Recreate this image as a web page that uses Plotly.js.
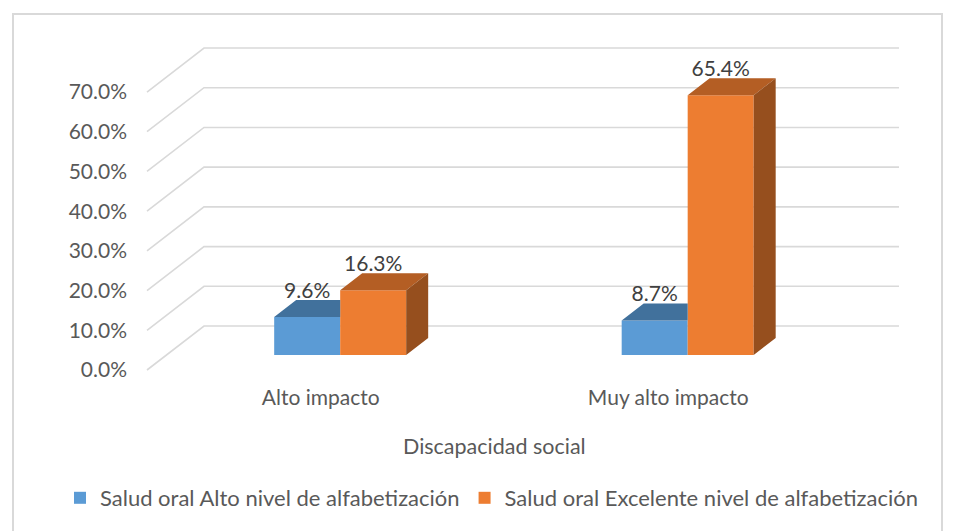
<!DOCTYPE html>
<html>
<head>
<meta charset="utf-8">
<script src="https://cdn.plot.ly/plotly-3.0.1.min.js"></script>
<style>
  html, body { margin: 0; padding: 0; background: #ffffff; }
  #wrap { position: relative; width: 959px; height: 531px; }
  #chart { width: 959px; height: 531px; }
  #frame { position: absolute; left: 12px; top: 13px; width: 931px; height: 530px;
           border: 2px solid #d9d9d9; pointer-events: none; box-sizing: border-box; }
</style>
</head>
<body>
<div id="wrap">
  <div id="chart"></div>
  <div id="frame"></div>
</div>
<script>
// ---------------- data ----------------
const categories = ['Alto impacto', 'Muy alto impacto'];
const seriesNames = ['Salud oral Alto nivel de alfabetización', 'Salud oral Excelente nivel de alfabetización'];
const altoNivel = [9.6, 8.7];
const excelenteNivel = [16.3, 65.4];
const yTickVals = [0, 10, 20, 30, 40, 50, 60, 70];
const yTickText = ['0.0%', '10.0%', '20.0%', '30.0%', '40.0%', '50.0%', '60.0%', '70.0%'];
const xTitle = 'Discapacidad social';

// ---------------- geometry (pixels -> axis units) ----------------
const plotL = 146, plotR = 904, plotT = 44, plotB = 374;
const frontX0px = 147, frontY0px = 370;
const kx = 347.5;            // px per category unit
const ky = 3.971;            // px per percent
const DX = 57 / kx, DY = 44 / ky;   // full depth of the 3-D box
const df = 15 / 44;          // depth fraction of bar front
const bd = 22 / 57;          // bar depth fraction
const bw = 66 / kx;          // bar width
const labelDrop = 3 / ky;    // data labels sit slightly lower than the box top
const xRange = [-0.5 - (frontX0px - plotL) / kx, -0.5 + (plotR - frontX0px) / kx];
const yRange = [-(plotB - frontY0px) / ky, (frontY0px - plotT) / ky];

const colors = {
  front: ['#5B9BD5', '#ED7D31'],
  top:   ['#41719C', '#B45E24'],
  side:  ['#3A6690', '#964F1E']
};
const textColor = '#595959';
const font = 'Lato, "Open Sans", sans-serif';

const seriesVals = [altoNivel, excelenteNivel];
const traces = [];

// front faces as bars (also give legend entries)
seriesVals.forEach((vals, s) => {
  traces.push({
    type: 'bar',
    name: seriesNames[s],
    x: categories.map((c, i) => i + df * DX),
    y: vals,
    base: vals.map(() => df * DY),
    width: bw,
    offset: s === 0 ? -bw : 0,
    marker: { color: colors.front[s], line: { width: 0 } },
    hoverinfo: 'skip'
  });
});

// top and side faces
seriesVals.forEach((vals, s) => {
  const topX = [], topY = [], sideX = [], sideY = [];
  vals.forEach((v, i) => {
    const xl = i + df * DX + (s === 0 ? -bw : 0);
    const xr = xl + bw;
    const yb = df * DY;
    const yt = yb + v;
    const other = seriesVals[1 - s][i];
    if (s === 0 && other >= v) {
      topX.push(xl, xr, xr, xl + bd * DX, xl, null);
      topY.push(yt, yt, yt + bd * DY, yt + bd * DY, yt, null);
    } else {
      topX.push(xl, xr, xr + bd * DX, xl + bd * DX, xl, null);
      topY.push(yt, yt, yt + bd * DY, yt + bd * DY, yt, null);
    }
    if (s === 1) {
      sideX.push(xr, xr, xr + bd * DX, xr + bd * DX, xr, null);
      sideY.push(yb, yt, yt + bd * DY, yb + bd * DY, yb, null);
    }
  });
  traces.push({ type: 'scatter', mode: 'lines', x: topX, y: topY, fill: 'toself',
    fillcolor: colors.top[s], line: { width: 0, color: colors.top[s] }, showlegend: false, hoverinfo: 'skip' });
  if (sideX.length) {
    traces.push({ type: 'scatter', mode: 'lines', x: sideX, y: sideY, fill: 'toself',
      fillcolor: colors.side[s], line: { width: 0, color: colors.side[s] }, showlegend: false, hoverinfo: 'skip' });
  }
});

// data labels
seriesVals.forEach((vals, s) => {
  traces.push({
    type: 'scatter', mode: 'text',
    x: vals.map((v, i) => i + df * DX + (s === 0 ? -bw / 2 : bw / 2)),
    y: vals.map(v => df * DY + v + bd * DY - labelDrop),
    text: vals.map(v => v.toFixed(1) + '%'),
    textposition: 'top center',
    textfont: { family: font, size: 21, color: '#404040' },
    cliponaxis: false, showlegend: false, hoverinfo: 'skip'
  });
});

// 3-D gridlines (floor-to-back-wall) from tick values
const shapes = yTickVals.map(t => ({
  type: 'path', xref: 'x', yref: 'y', layer: 'below',
  path: 'M' + (-0.5) + ',' + t + ' L' + (-0.5 + DX) + ',' + (t + DY) + ' L' + (1.5 + DX) + ',' + (t + DY),
  line: { color: '#d9d9d9', width: 1.6 }
}));

const layout = {
  width: 959, height: 531,
  margin: { l: plotL, r: 959 - plotR, t: plotT, b: 531 - plotB, pad: 0, autoexpand: false },
  paper_bgcolor: '#ffffff', plot_bgcolor: 'rgba(0,0,0,0)',
  barmode: 'overlay',
  showlegend: true,
  font: { family: font, size: 21, color: textColor },
  xaxis: {
    range: xRange, showgrid: false, zeroline: false, showline: false,
    tickmode: 'array', tickvals: categories.map((c, i) => i), ticktext: categories,
    ticks: '', ticklabelstandoff: 9, automargin: false,
    tickfont: { family: font, size: 21, color: textColor }, fixedrange: true
  },
  yaxis: {
    range: yRange, showgrid: false, zeroline: false, showline: false,
    tickmode: 'array', tickvals: yTickVals, ticktext: yTickText,
    ticks: '', ticklabelstandoff: 18, automargin: false,
    tickfont: { family: font, size: 21, color: textColor }, fixedrange: true
  },
  shapes: shapes,
  annotations: [{
    text: xTitle, xref: 'x', yref: 'paper', x: 0.5, y: (plotB - 446) / (plotB - plotT),
    xanchor: 'center', yanchor: 'middle', showarrow: false,
    font: { family: font, size: 21.5, color: textColor }
  }],
  legend: {
    orientation: 'h', x: (60 - plotL) / (plotR - plotL), xanchor: 'left',
    y: (plotB - 498) / (plotB - plotT), yanchor: 'middle',
    font: { family: font, size: 22, color: textColor },
    traceorder: 'normal', itemclick: false, itemdoubleclick: false
  }
};

Plotly.newPlot('chart', traces, layout, { displayModeBar: false, staticPlot: true });
</script>
</body>
</html>
